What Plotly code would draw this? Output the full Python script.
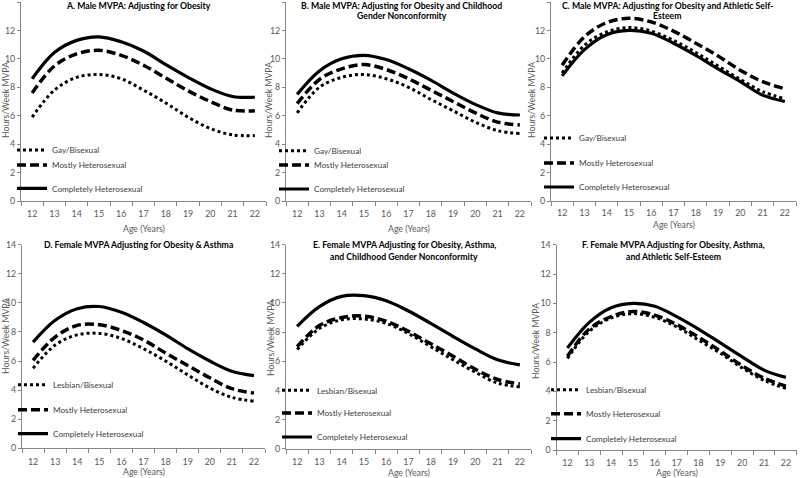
import plotly.graph_objects as go

ages = [12, 13, 14, 15, 16, 17, 18, 19, 20, 21, 22]

# Panel A: Male, adjusting for obesity
A_gay = [5.9, 7.8, 8.7, 8.9, 8.6, 7.8, 6.9, 5.9, 5.1, 4.65, 4.6]
A_mostly = [7.6, 9.5, 10.35, 10.6, 10.25, 9.55, 8.65, 7.75, 7.0, 6.4, 6.35]
A_complete = [8.6, 10.45, 11.3, 11.55, 11.2, 10.55, 9.6, 8.7, 7.9, 7.35, 7.3]

# Panel B: Male, obesity + childhood gender nonconformity
B_gay = [6.2, 8.0, 8.7, 8.9, 8.6, 8.0, 7.15, 6.35, 5.55, 4.95, 4.75]
B_mostly = [6.85, 8.55, 9.3, 9.6, 9.25, 8.6, 7.8, 7.0, 6.2, 5.55, 5.35]
B_complete = [7.5, 9.15, 10.0, 10.25, 9.95, 9.3, 8.5, 7.6, 6.8, 6.2, 6.05]

# Panel C: Male, obesity + athletic self-esteem
C_gay = [9.0, 10.95, 11.9, 12.2, 11.95, 11.3, 10.45, 9.5, 8.55, 7.7, 7.2]
C_mostly = [9.55, 11.55, 12.55, 12.85, 12.6, 11.95, 11.1, 10.2, 9.2, 8.4, 7.9]
C_complete = [8.8, 10.65, 11.7, 12.0, 11.8, 11.1, 10.25, 9.3, 8.4, 7.45, 7.0]

# Panel D: Female, obesity + asthma
D_les = [5.5, 7.1, 7.8, 7.9, 7.55, 6.85, 6.0, 5.05, 4.15, 3.5, 3.25]
D_mostly = [6.05, 7.65, 8.45, 8.5, 8.1, 7.45, 6.55, 5.7, 4.85, 4.1, 3.8]
D_complete = [7.3, 8.8, 9.6, 9.75, 9.35, 8.65, 7.8, 6.85, 6.0, 5.3, 5.0]

# Panel E: Female, obesity + asthma + childhood gender nonconformity
E_les = [6.8, 8.25, 8.85, 8.9, 8.6, 7.9, 7.0, 6.1, 5.25, 4.5, 4.25]
E_mostly = [7.0, 8.45, 9.0, 9.1, 8.75, 8.05, 7.2, 6.35, 5.45, 4.75, 4.45]
E_complete = [8.4, 9.75, 10.45, 10.5, 10.15, 9.45, 8.6, 7.7, 6.85, 6.1, 5.75]

# Panel F: Female, obesity + asthma + athletic self-esteem
F_les = [6.25, 8.1, 9.0, 9.3, 9.05, 8.4, 7.5, 6.6, 5.6, 4.75, 4.2]
F_mostly = [6.4, 8.25, 9.1, 9.45, 9.2, 8.55, 7.7, 6.75, 5.75, 4.9, 4.35]
F_complete = [6.95, 8.7, 9.7, 10.0, 9.8, 9.1, 8.25, 7.3, 6.35, 5.45, 4.95]

male_names = ["Gay/Bisexual", "Mostly Heterosexual", "Completely Heterosexual"]
female_names = ["Lesbian/Bisexual", "Mostly Heterosexual", "Completely Heterosexual"]

titles = [
    ["A. Male MVPA: Adjusting for Obesity"],
    ["B. Male MVPA: Adjusting for Obesity and Childhood", "Gender Nonconformity"],
    ["C. Male MVPA: Adjusting for Obesity and Athletic Self-", "Esteem"],
    ["D. Female MVPA Adjusting for Obesity & Asthma"],
    ["E. Female MVPA Adjusting for Obesity, Asthma,", "and Childhood Gender Nonconformity"],
    ["F. Female MVPA Adjusting for Obesity, Asthma,", "and Athletic Self-Esteem"],
]

series = [
    (male_names, [A_gay, A_mostly, A_complete]),
    (male_names, [B_gay, B_mostly, B_complete]),
    (male_names, [C_gay, C_mostly, C_complete]),
    (female_names, [D_les, D_mostly, D_complete]),
    (female_names, [E_les, E_mostly, E_complete]),
    (female_names, [F_les, F_mostly, F_complete]),
]

W, H = 800, 478
FONT = "Lato"
GRAY = "#595959"
AXC = "#868686"
FS = 8.2       # regular text size
TFS = 8.7      # bold title size


def fx(p):
    return p / W


def fy(p):
    return 1 - p / H


# plot-area geometry in pixels: (x_left, x_right, y_top(14), y_bottom(0))
geo = [
    (21, 266, 2, 201),
    (286, 531, 2, 201),
    (551, 796, 2, 201),
    (22, 265, 244.7, 448.3),
    (286, 531, 244.7, 448.7),
    (556.5, 796.8, 244.7, 450),
]
xlabel_standoff = [4, 4, 3, 5, 5, 4]
# title: center x, line centers
title_pos = [
    (138, [5]),
    (402, [5, 15.5]),
    (667, [5, 15.5]),
    (138, [244.7]),
    (404, [244.7, 256.3]),
    (673, [244.7, 256.3]),
]
# y-axis title (x, y), x-axis title (x, y)
ytitle_pos = [(5, 100), (268, 100), (531, 100), (5, 336), (270, 338), (535, 341)]
xtitle_pos = [(144, 228), (409, 228), (674, 224), (144, 471), (409, 472), (677, 472)]
# legend: text start x, item centers y
legend_pos = [
    (56, [150, 165, 188.3]),
    (318, [150.7, 165, 189]),
    (583, [138, 163, 187]),
    (57, [384.7, 409.7, 433.7]),
    (321, [390.3, 413, 437]),
    (590, [389.7, 413.7, 438.7]),
]

styles = [
    dict(width=3, dash="3px,3px"),
    dict(width=3.5, dash="9px,4px"),
    dict(width=3.2, dash="solid"),
]

fig = go.Figure()
layout = {}
annotations = []
leg_idx = 0
for i, (names, vals) in enumerate(series):
    ax = "" if i == 0 else str(i + 1)
    x0, x1, yt, yb = geo[i]
    for j in range(3):
        leg_idx += 1
        lid = "legend" if leg_idx == 1 else f"legend{leg_idx}"
        fig.add_trace(go.Scatter(
            x=ages, y=vals[j], mode="lines", name=names[j],
            line=dict(color="black", shape="spline", smoothing=1.0, **styles[j]),
            xaxis="x" + ax, yaxis="y" + ax, legend=lid, showlegend=True,
            hoverinfo="x+y+name",
        ))
        tx, tys = legend_pos[i]
        layout[lid] = dict(
            x=fx(tx - 44), y=fy(tys[j]), xanchor="left", yanchor="middle",
            bgcolor="rgba(0,0,0,0)", borderwidth=0,
            font=dict(family=FONT, size=FS, color="#404040"),
            itemwidth=30,
        )
    layout["xaxis" + ax] = dict(
        domain=[fx(x0), fx(x1)], range=[11.5, 22.5], anchor="y" + ax,
        tickmode="array", tickvals=ages, ticktext=[str(a) for a in ages],
        ticks="", showline=True, linecolor=AXC, linewidth=1,
        showgrid=False, zeroline=False, automargin=False,
        ticklabelstandoff=xlabel_standoff[i],
        minor=dict(ticks="outside", tick0=11.5, dtick=1, ticklen=4,
                   tickcolor=AXC, tickwidth=1, showgrid=False),
        tickfont=dict(family=FONT, size=FS + 0.7, color=GRAY),
        fixedrange=True,
    )
    layout["yaxis" + ax] = dict(
        domain=[fy(yb), fy(yt)], range=[0, 14], anchor="x" + ax,
        tickmode="linear", tick0=0, dtick=2,
        ticks="outside", ticklen=3, tickcolor=AXC,
        showline=True, linecolor=AXC, linewidth=1,
        showgrid=False, zeroline=False, automargin=False,
        tickfont=dict(family=FONT, size=FS + 0.7, color=GRAY),
        fixedrange=True,
    )
    cx, lines_y = title_pos[i]
    for line, ly in zip(titles[i], lines_y):
        annotations.append(dict(
            text=f"<b>{line}</b>", x=fx(cx), y=fy(ly), xref="paper", yref="paper",
            xanchor="center", yanchor="middle", showarrow=False,
            font=dict(family=FONT, size=TFS, color="black"),
        ))
    yx, yy = ytitle_pos[i]
    annotations.append(dict(
        text="Hours/Week MVPA", x=fx(yx), y=fy(yy), xref="paper", yref="paper",
        xanchor="center", yanchor="middle", textangle=-90, showarrow=False,
        font=dict(family=FONT, size=FS + 0.5, color=GRAY),
    ))
    xx, xy = xtitle_pos[i]
    annotations.append(dict(
        text="Age (Years)", x=fx(xx), y=fy(xy), xref="paper", yref="paper",
        xanchor="center", yanchor="middle", showarrow=False,
        font=dict(family=FONT, size=FS + 0.5, color=GRAY),
    ))

fig.update_layout(
    width=W, height=H,
    margin=dict(l=0, r=0, t=0, b=0, autoexpand=False),
    paper_bgcolor="white", plot_bgcolor="white",
    annotations=annotations,
    **layout,
)

fig.write_html(
    "out.html",
    config={"displayModeBar": False},
    post_script="document.body.style.margin='0';document.body.style.overflow='hidden';",
)
